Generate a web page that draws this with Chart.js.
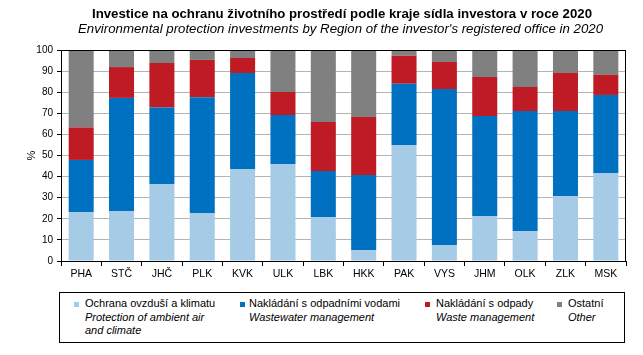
<!DOCTYPE html>
<html>
<head>
<meta charset="utf-8">
<script src="https://cdn.jsdelivr.net/npm/chart.js@4"></script>
<style>
  html, body { margin:0; padding:0; background:#fff; }
  #wrap { position:relative; width:643px; height:355px; font-family:"Liberation Sans", Arial, sans-serif; color:#000; overflow:hidden; }
  #cv { position:absolute; left:0; top:0; width:643px; height:288px; }
  .t { position:absolute; white-space:nowrap; transform-origin:0 0; }
  #title { left:92px; top:6px; font-size:13px; line-height:15px; font-weight:bold; }
  #subtitle { left:78px; top:21px; font-size:13px; line-height:15px; font-style:italic; }
  #legend { position:absolute; left:59px; top:292px; width:564px; height:49px; border:1px solid #000; box-sizing:content-box; }
  .li { position:absolute; top:4px; font-size:11px; line-height:13.5px; white-space:nowrap; }
  .li i { font-style:italic; }
  .sw { position:absolute; width:5px; height:5px; top:9px; }
</style>
</head>
<body>
<div id="wrap">
  <div id="cv"><canvas id="c"></canvas></div>
  <div class="t" id="title">Investice na ochranu životního prostředí podle kraje sídla investora v roce 2020</div>
  <div class="t" id="subtitle">Environmental protection investments by Region of the investor's registered office in 2020</div>
  <div id="legend"></div>
</div>
<script>
// Data (percent shares)
const categories = ["PHA","STČ","JHČ","PLK","KVK","ULK","LBK","HKK","PAK","VYS","JHM","OLK","ZLK","MSK"];
const airClimate  = [23.2, 23.7, 36.5, 22.7, 43.6, 46.0, 20.9,  5.2, 55.0,  7.6, 21.3, 14.2, 30.8, 41.7];
const wastewater  = [24.7, 53.6, 36.2, 54.9, 45.5, 23.2, 21.8, 35.6, 29.0, 73.9, 47.4, 56.9, 40.3, 37.0];
const waste       = [15.4, 14.6, 21.1, 17.7,  7.1, 10.9, 23.2, 27.4, 13.3, 12.8, 18.5, 11.4, 18.0,  9.5];
const other       = [36.7,  8.1,  6.2,  4.7,  3.8, 19.9, 34.1, 31.8,  2.7,  5.7, 12.8, 17.5, 10.9, 11.8];
const yTicks = [0,10,20,30,40,50,60,70,80,90,100];

const seriesCz = ["Ochrana ovzduší a klimatu","Nakládání s odpadními vodami","Nakládání s odpady","Ostatní"];
const seriesEn = [["Protection of ambient air","and climate"],["Wastewater management"],["Waste management"],["Other"]];
const colors = ["#a6cbe6","#0070c0","#be1b24","#808080"];
const seriesData = [airClimate, wastewater, waste, other];

// Fit title widths
function fit(id, w){ const el=document.getElementById(id); const r=el.getBoundingClientRect().width; el.style.transform='scaleX('+(w/r)+')'; }
fit('title', 500);
fit('subtitle', 525);

// Legend
const legendPos = [{s:74,t:85},{s:240,t:249},{s:425,t:436},{s:557,t:568}];
const lg = document.getElementById('legend');
seriesCz.forEach((name,i)=>{
  const sw=document.createElement('div'); sw.className='sw'; sw.style.background=colors[i];
  sw.style.left=(legendPos[i].s-60)+'px'; lg.appendChild(sw);
  const li=document.createElement('div'); li.className='li'; li.style.left=(legendPos[i].t-60)+'px';
  li.innerHTML = name + '<br>' + seriesEn[i].map(s=>'<i>'+s+'</i>').join('<br>');
  lg.appendChild(li);
});

const boxPlugin = {
  id:'box',
  afterDraw(chart){
    const a=chart.chartArea, ctx=chart.ctx;
    ctx.save(); ctx.strokeStyle='#000'; ctx.lineWidth=1;
    ctx.strokeRect(Math.round(a.left)+0.5, Math.round(a.top)+0.5, Math.round(a.right-a.left)-1, Math.round(a.bottom-a.top));
    ctx.restore();
  }
};

new Chart(document.getElementById('c'), {
  type:'bar',
  data:{
    labels:categories,
    datasets: seriesData.map((d,i)=>({label:seriesCz[i], data:d, backgroundColor:colors[i], borderWidth:0,
      barPercentage:0.62, categoryPercentage:1.0}))
  },
  options:{
    responsive:true, maintainAspectRatio:false, animation:false,
    layout:{padding:{top:50,left:0,right:17,bottom:0}},
    plugins:{legend:{display:false}, tooltip:{enabled:false}, title:{display:false}},
    scales:{
      x:{
        stacked:true,
        grid:{display:true, drawOnChartArea:false, tickLength:5, tickColor:'#000', offset:true},
        border:{display:true, color:'#000', width:1},
        ticks:{color:'#000', font:{family:'"Liberation Sans", Arial, sans-serif', size:10.5}, padding:2, maxRotation:0},
        afterFit(s){ s.height = 27; }
      },
      y:{
        stacked:true, min:0, max:100,
        afterBuildTicks(s){ s.ticks = yTicks.map(v=>({value:v})); },
        grid:{color:'#b4b4b4', lineWidth:1, tickLength:4, tickColor:'#000'},
        border:{display:true, color:'#000', width:1},
        ticks:{color:'#000', font:{family:'"Liberation Sans", Arial, sans-serif', size:10}, padding:4},
        title:{display:true, text:'%', color:'#000', font:{family:'"Liberation Sans", Arial, sans-serif', size:11}, padding:{top:25,bottom:0}},
        afterFit(s){ s.width = 61; }
      }
    }
  },
  plugins:[boxPlugin]
});
</script>
</body>
</html>
